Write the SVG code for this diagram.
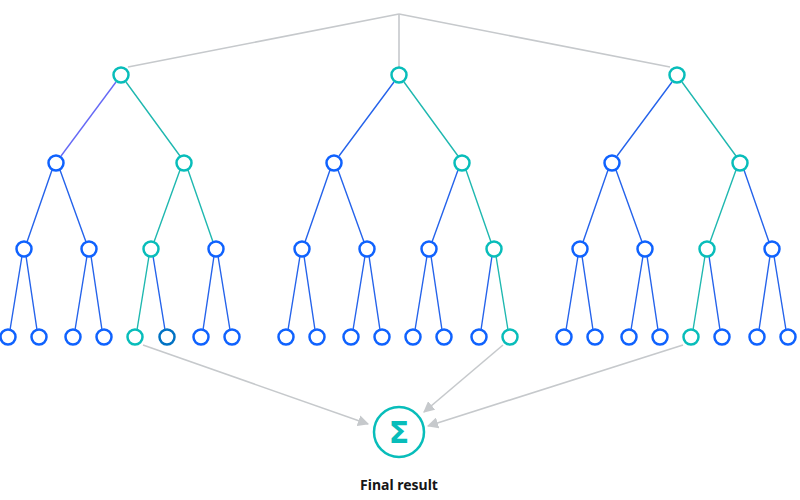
<svg xmlns="http://www.w3.org/2000/svg" width="800" height="500" viewBox="0 0 800 500">
<defs>
<style>
.n{fill:#fff;stroke-width:2.5}
.b{stroke:#0f62fe}.t{stroke:#08bdba}.d{stroke:#0072c3}
.eb{stroke:#2563eb;stroke-width:1.4;fill:none}
.et{stroke:#1fb8b0;stroke-width:1.4;fill:none}
.g{stroke:#c6c9cc;stroke-width:1.6;fill:none}
.a{stroke:#c6c9cc;stroke-width:1.6;fill:none;marker-end:url(#ar)}
</style>
<marker id="ar" viewBox="0 0 10 10" refX="9" refY="5" markerWidth="7" markerHeight="7" orient="auto"><path d="M0,0L10,5L0,10z" fill="#c6c9cc"/></marker>
<linearGradient id="pg" x1="0" y1="0" x2="1" y2="1"><stop offset="0" stop-color="#a56eff"/><stop offset="1" stop-color="#2563eb"/></linearGradient>
</defs>
<g id="connectors">
<path class="g" d="M399,14L128,67M399,14L399,67M399,14L670,67"/>
<path d="M116,82L61,156" stroke="url(#pg)" stroke-width="1.4" fill="none"/>
<path class="et" d="M126,82L180,156M180,170L154,242M188,170L213,242M149,256L137,330"/>
<path class="eb" d="M52,170L27,242M60,170L86,242M22,256L10,330M26,256L37,330M87,256L75,330M91,256L102,330M153,256L165,330M214,256L203,330M218,256L230,330"/>
<path class="eb" d="M394,82L339,156M330,170L305,242M338,170L364,242M300,256L288,330M304,256L315,330M365,256L353,330M369,256L380,330M458,170L432,242M427,256L415,330M431,256L442,330M492,256L481,330"/>
<path class="et" d="M404,82L458,156M466,170L491,242M496,256L508,330"/>
<path class="eb" d="M672,82L617,156M608,170L583,242M616,170L642,242M578,256L566,330M582,256L593,330M643,256L631,330M647,256L658,330M744,170L769,242M770,256L759,330M774,256L786,330M709,256L720,330"/>
<path class="et" d="M682,82L736,156M736,170L710,242M705,256L693,330"/>
<path class="a" d="M143,345L368,424"/>
<path class="a" d="M503,345L424,412"/>
<path class="a" d="M683,345L428,426"/>
</g>
<g id="tree1">
<circle class="n t" cx="121" cy="75" r="7.5"/>
<circle class="n b" cx="56" cy="163" r="7.5"/><circle class="n t" cx="184" cy="163" r="7.5"/>
<circle class="n b" cx="24" cy="249" r="7.5"/><circle class="n b" cx="89" cy="249" r="7.5"/><circle class="n t" cx="151" cy="249" r="7.5"/><circle class="n b" cx="216" cy="249" r="7.5"/>
<circle class="n b" cx="8" cy="337" r="7.5"/><circle class="n b" cx="39" cy="337" r="7.5"/><circle class="n b" cx="73" cy="337" r="7.5"/><circle class="n b" cx="104" cy="337" r="7.5"/><circle class="n t" cx="135" cy="337" r="7.5"/><circle class="n d" cx="167" cy="337" r="7.5"/><circle class="n b" cx="201" cy="337" r="7.5"/><circle class="n b" cx="232" cy="337" r="7.5"/>
</g>
<g id="tree2">
<circle class="n t" cx="399" cy="75" r="7.5"/>
<circle class="n b" cx="334" cy="163" r="7.5"/><circle class="n t" cx="462" cy="163" r="7.5"/>
<circle class="n b" cx="302" cy="249" r="7.5"/><circle class="n b" cx="367" cy="249" r="7.5"/><circle class="n b" cx="429" cy="249" r="7.5"/><circle class="n t" cx="494" cy="249" r="7.5"/>
<circle class="n b" cx="286" cy="337" r="7.5"/><circle class="n b" cx="317" cy="337" r="7.5"/><circle class="n b" cx="351" cy="337" r="7.5"/><circle class="n b" cx="382" cy="337" r="7.5"/><circle class="n b" cx="413" cy="337" r="7.5"/><circle class="n b" cx="444" cy="337" r="7.5"/><circle class="n b" cx="479" cy="337" r="7.5"/><circle class="n t" cx="510" cy="337" r="7.5"/>
</g>
<g id="tree3">
<circle class="n t" cx="677" cy="75" r="7.5"/>
<circle class="n b" cx="612" cy="163" r="7.5"/><circle class="n t" cx="740" cy="163" r="7.5"/>
<circle class="n b" cx="580" cy="249" r="7.5"/><circle class="n b" cx="645" cy="249" r="7.5"/><circle class="n t" cx="707" cy="249" r="7.5"/><circle class="n b" cx="772" cy="249" r="7.5"/>
<circle class="n b" cx="564" cy="337" r="7.5"/><circle class="n b" cx="595" cy="337" r="7.5"/><circle class="n b" cx="629" cy="337" r="7.5"/><circle class="n b" cx="660" cy="337" r="7.5"/><circle class="n t" cx="691" cy="337" r="7.5"/><circle class="n b" cx="722" cy="337" r="7.5"/><circle class="n b" cx="757" cy="337" r="7.5"/><circle class="n b" cx="788" cy="337" r="7.5"/>
</g>
<g id="sum">
<circle cx="399" cy="432" r="25" fill="#fff" stroke="#08bdba" stroke-width="2.5"/>
<text x="399" y="443" text-anchor="middle" font-family="'DejaVu Sans',sans-serif" font-weight="bold" font-size="30" fill="#08bdba">Σ</text>
<text x="399" y="490" text-anchor="middle" font-family="'Noto Sans','Liberation Sans',sans-serif" font-weight="bold" font-size="14" fill="#161616">Final result</text>
</g>
</svg>
